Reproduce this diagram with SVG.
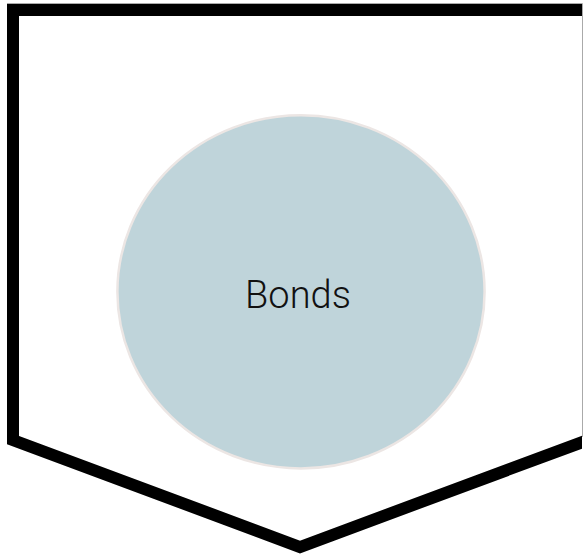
<svg xmlns="http://www.w3.org/2000/svg" width="585" height="556" viewBox="0 0 585 556">
  <defs>
    <clipPath id="clip"><rect x="0" y="0" width="582" height="556"/></clipPath>
    <style>
      .frame{fill:none;stroke:#000;stroke-width:12;stroke-linejoin:miter}
      .edge{fill:none;stroke:#aaa;stroke-width:1}
      .node{fill:#bfd4da;stroke:#ece6e4;stroke-width:2.5}
      .label{font-family:Roboto,"Liberation Sans",sans-serif;font-weight:300;font-size:38px;fill:#111;text-anchor:middle}
    </style>
  </defs>
  <rect width="585" height="556" fill="#fff"/>
  <g id="frame" clip-path="url(#clip)">
    <polygon class="frame" points="13,10 588,10 588,440 300,547 13,440"/>
  </g>
  <g id="border">
    <path class="edge" d="M7,3.5 H582.5 V437"/>
  </g>
  <g id="connectors"></g>
  <g id="bonds">
    <ellipse class="node" cx="301" cy="291.8" rx="183.6" ry="176.6"/>
    <text class="label" x="298" y="307.5">Bonds</text>
  </g>
</svg>
